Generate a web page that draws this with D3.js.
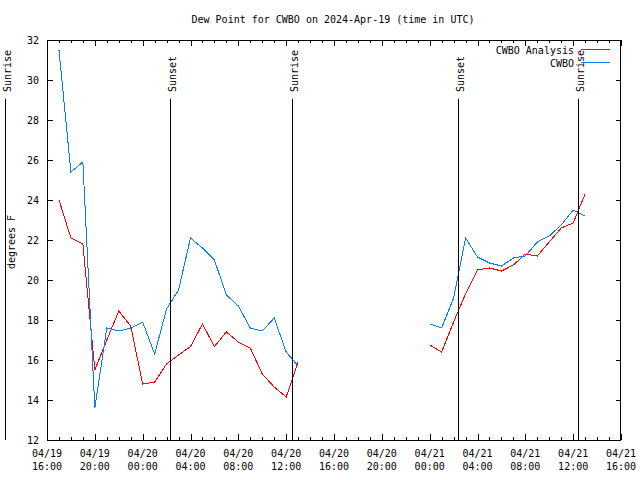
<!DOCTYPE html>
<html><head><meta charset="utf-8">
<script src="https://cdn.jsdelivr.net/npm/d3@7"></script>
<style>
body{margin:0;background:#fff;}
svg{display:block;}
text{font-family:"DejaVu Sans Mono","Liberation Mono",monospace;font-size:10px;fill:#000;}
</style></head>
<body>
<svg id="c" width="640" height="480"></svg>
<script>
const titleText = "Dew Point for CWBO on 2024-Apr-19 (time in UTC)";
const yLabel = "degrees F";
const xDomain = ["2024-04-19T16", "2024-04-21T16"];
const yDomain = [12, 32];
const yTicks = [12, 14, 16, 18, 20, 22, 24, 26, 28, 30, 32];
const obsTimes = [
 "2024-04-19T17","2024-04-19T18","2024-04-19T19","2024-04-19T20","2024-04-19T21","2024-04-19T22","2024-04-19T23",
 "2024-04-20T00","2024-04-20T01","2024-04-20T02","2024-04-20T03","2024-04-20T04","2024-04-20T05","2024-04-20T06",
 "2024-04-20T07","2024-04-20T08","2024-04-20T09","2024-04-20T10","2024-04-20T11","2024-04-20T12","2024-04-20T13",
 "2024-04-20T14","2024-04-20T15","2024-04-20T16","2024-04-20T17","2024-04-20T18","2024-04-20T19","2024-04-20T20",
 "2024-04-20T21","2024-04-20T22","2024-04-20T23",
 "2024-04-21T00","2024-04-21T01","2024-04-21T02","2024-04-21T03","2024-04-21T04","2024-04-21T05","2024-04-21T06",
 "2024-04-21T07","2024-04-21T08","2024-04-21T09","2024-04-21T10","2024-04-21T11","2024-04-21T12","2024-04-21T13"
];
const analysisValues = [
 24.0,22.1,21.8,15.5,17.0,18.45,17.7,
 14.8,14.9,15.8,16.25,16.67,17.8,16.67,
 17.4,16.9,16.6,15.3,14.65,14.15,15.9,
 null,null,null,null,null,null,null,null,null,null,
 16.75,16.4,17.9,19.3,20.5,20.6,20.45,
 20.75,21.3,21.2,21.9,22.6,22.85,24.3
];
const obsValues = [
 31.5,25.4,25.9,13.6,17.6,17.45,17.6,
 17.9,16.3,18.55,19.5,22.1,21.6,21.0,
 19.25,18.7,17.6,17.45,18.1,16.4,15.7,
 null,null,null,null,null,null,null,null,null,null,
 17.8,17.6,19.1,22.1,21.15,20.85,20.7,
 21.1,21.2,21.9,22.2,22.75,23.5,23.2
];
const seriesNames = ["CWBO Analysis", "CWBO"];
const seriesColors = ["#ff0000", "#0080ff"];
const sunEvents = [
 {label:"Sunrise", time:"2024-04-19T12:30"},
 {label:"Sunset",  time:"2024-04-20T02:17"},
 {label:"Sunrise", time:"2024-04-20T12:28"},
 {label:"Sunset",  time:"2024-04-21T02:23"},
 {label:"Sunrise", time:"2024-04-21T12:26"}
];

const parseH = d3.utcParse("%Y-%m-%dT%H");
const parseM = d3.utcParse("%Y-%m-%dT%H:%M");
const svg = d3.select("#c");
const L = 47, R = 621, T = 40, B = 440;

const x = d3.scaleUtc().domain(xDomain.map(parseH)).range([L, R]);
const y = d3.scaleLinear().domain(yDomain).range([B, T]);

// title
svg.append("text").attr("x", 333).attr("y", 22.5).attr("text-anchor", "middle").text(titleText);

// series
const times = obsTimes.map(parseH);
[analysisValues, obsValues].forEach((vals, i) => {
  const pts = vals.map((v, j) => ({t: times[j], v}));
  const line = d3.line().defined(d => d.v !== null).x(d => x(d.t)).y(d => y(d.v));
  svg.append("path").datum(pts).attr("d", line)
    .attr("fill", "none").attr("stroke", seriesColors[i]).attr("stroke-width", 1)
    .attr("shape-rendering", "crispEdges");
});

// border
svg.append("rect").attr("x", L + 0.5).attr("y", T + 0.5).attr("width", R - L - 1).attr("height", B - T)
  .attr("fill", "none").attr("stroke", "#000").attr("stroke-width", 1).attr("shape-rendering", "crispEdges");

// y axis ticks (left and right mirror)
const gy = svg.append("g").attr("shape-rendering", "crispEdges");
yTicks.forEach(t => {
  const yy = Math.round(y(t)) + 0.5;
  gy.append("line").attr("x1", L).attr("x2", L + 6).attr("y1", yy).attr("y2", yy).attr("stroke", "#000");
  gy.append("line").attr("x1", R - 5).attr("x2", R).attr("y1", yy).attr("y2", yy).attr("stroke", "#000");
  svg.append("text").attr("x", 39).attr("y", y(t) + 3.5).attr("text-anchor", "end").text(t);
});

// x axis ticks
const gx = svg.append("g").attr("shape-rendering", "crispEdges");
const minor = d3.utcHour.every(1).range(x.domain()[0], d3.utcHour.offset(x.domain()[1], 1));
minor.forEach(t => {
  const xx = Math.round(x(t)) + 0.5;
  const major = t.getUTCHours() % 4 === 0;
  const len = major ? 6 : 3;
  gx.append("line").attr("x1", xx).attr("x2", xx).attr("y1", B).attr("y2", B - len).attr("stroke", "#000");
  gx.append("line").attr("x1", xx).attr("x2", xx).attr("y1", T).attr("y2", T + len).attr("stroke", "#000");
});
const majors = d3.utcHour.every(4).range(x.domain()[0], d3.utcHour.offset(x.domain()[1], 1));
const fD = d3.utcFormat("%m/%d"), fT = d3.utcFormat("%H:%M");
majors.forEach(t => {
  const tx = svg.append("text").attr("x", x(t)).attr("y", 457).attr("text-anchor", "middle");
  tx.append("tspan").attr("x", x(t)).text(fD(t));
  tx.append("tspan").attr("x", x(t)).attr("dy", 13).text(fT(t));
});

// y label
svg.append("text").attr("transform", "translate(11,242) rotate(-90)")
  .attr("text-anchor", "middle").attr("dy", "0.35em").text(yLabel);

// sunrise / sunset lines
sunEvents.forEach(e => {
  const xx = Math.round(x(parseM(e.time))) + 0.5;
  svg.append("line").attr("x1", xx).attr("x2", xx).attr("y1", 99).attr("y2", B)
    .attr("stroke", "#000").attr("shape-rendering", "crispEdges");
  svg.append("text").attr("transform", `translate(${xx + 1.5},92) rotate(-90)`)
    .attr("text-anchor", "start").attr("dy", "0.35em").text(e.label);
});

// legend
seriesNames.forEach((n, i) => {
  const yy = 50 + i * 13;
  svg.append("text").attr("x", 574).attr("y", yy + 3.5).attr("text-anchor", "end").text(n);
  svg.append("line").attr("x1", 581).attr("x2", 610).attr("y1", yy - 0.5).attr("y2", yy - 0.5)
    .attr("stroke", seriesColors[i]).attr("shape-rendering", "crispEdges");
});
</script>
</body></html>
